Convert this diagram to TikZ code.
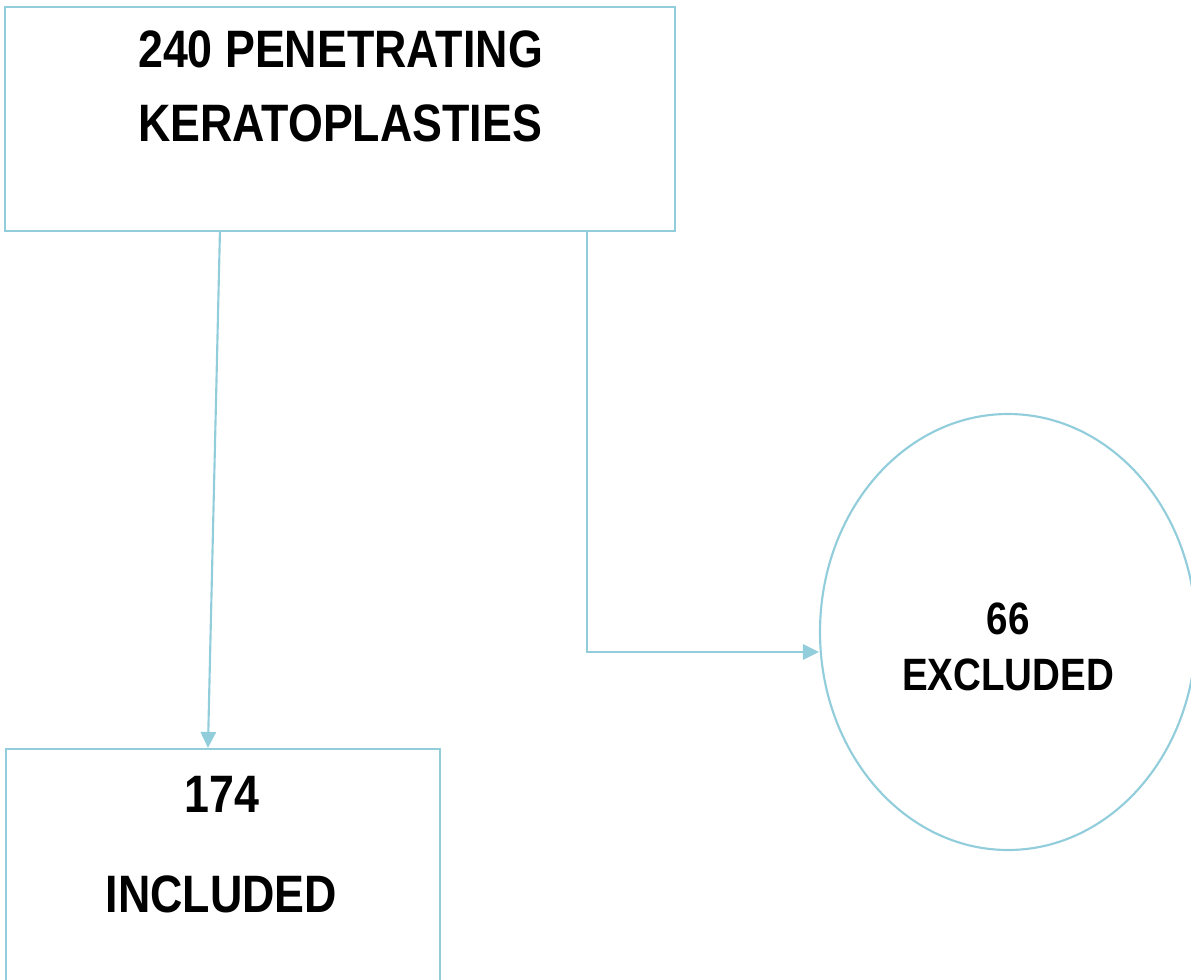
\documentclass[tikz,border=0pt]{standalone}
\usepackage{fontspec}
\setmainfont{Liberation Sans}[FakeStretch=0.85]
\usetikzlibrary{shapes.geometric,arrows.meta,calc}
\definecolor{lineblue}{RGB}{146,205,220}
\tikzset{
  frame/.style={draw=lineblue, line width=1.6pt, rectangle, inner sep=0pt},
  oval/.style={draw=lineblue, line width=1.6pt, ellipse, inner sep=0pt},
  big/.style={font=\fontsize{39.5pt}{41pt}\selectfont\bfseries, anchor=base, inner sep=0pt},
  small/.style={font=\fontsize{34pt}{36pt}\selectfont\bfseries, anchor=base, inner sep=0pt},
  arr/.style={draw=lineblue, line width=1.6pt, -{Triangle[length=12pt,width=11.5pt]}}
}
\begin{document}
\begin{tikzpicture}[x=0.75pt, y=-0.75pt]
\useasboundingbox (0,0) rectangle (1191,980);
\clip (0,0) rectangle (1191,980);
% boxes
\node[frame, minimum width=502.5pt, minimum height=168pt] (top) at (340,119) {};
\node[frame, minimum width=325.5pt, minimum height=180.75pt] (inc) at (223,869.5) {};
\node[oval, minimum width=282pt, minimum height=327pt] (ex) at (1008,632) {};
% texts
\node[big] (t1) at (340.5,68) {240 PENETRATING};
\node[big] (t2) at (340,142) {KERATOPLASTIES};
\node[big] (i1) at (222,812) {174};
\node[big] (i2) at (221.5,912) {INCLUDED};
\node[small] (e1) at (1008,634) {66};
\node[small] (e2) at (1008,690) {EXCLUDED};
% connectors
\path (top.south west) ++(216,0) coordinate (s1);
\path (inc.north west) ++(203,0) coordinate (d1);
\path (top.south west) ++(583,0) coordinate (s2);
\path (ex.west) ++(0,20) coordinate (d2);
\draw[arr] (s1) -- (d1);
\draw[arr] (s2) |- (d2);
\end{tikzpicture}
\end{document}
